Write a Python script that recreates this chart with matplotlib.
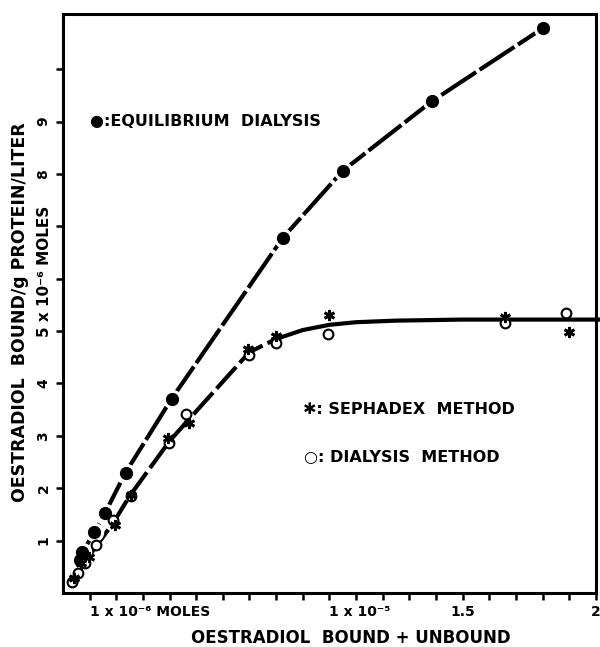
import numpy as np
import matplotlib.pyplot as plt

plt.rcParams['font.family'] = ['DejaVu Sans']
plt.rcParams['font.weight'] = 'bold'

# x in units of 1e-5 moles, y in units of 1e-6 moles
eq_x = [0.062, 0.073, 0.118, 0.157, 0.235, 0.408, 0.825, 1.05, 1.385, 1.80]
eq_y = [0.63, 0.78, 1.16, 1.52, 2.30, 3.71, 6.78, 8.06, 9.39, 10.78]

seph_x = [0.043, 0.066, 0.097, 0.194, 0.254, 0.393, 0.472, 0.695, 0.80, 1.0, 1.66, 1.90]
seph_y = [0.29, 0.57, 0.69, 1.30, 1.87, 2.95, 3.24, 4.65, 4.91, 5.30, 5.26, 4.99]

dial_x = [0.032, 0.058, 0.081, 0.125, 0.187, 0.254, 0.397, 0.463, 0.70, 0.80, 0.995, 1.66, 1.89]
dial_y = [0.21, 0.38, 0.57, 0.91, 1.39, 1.85, 2.86, 3.41, 4.55, 4.78, 4.95, 5.16, 5.35]

# hand-drawn fit through sephadex + dialysis points
fit_x = [0.03, 0.10, 0.19, 0.25, 0.40, 0.47, 0.70, 0.80]
fit_y = [0.22, 0.72, 1.35, 1.85, 2.90, 3.30, 4.60, 4.85]
plat_x = [0.80, 0.90, 1.00, 1.10, 1.25, 1.50, 1.75, 2.02]
plat_y = [4.85, 5.02, 5.12, 5.17, 5.20, 5.22, 5.22, 5.22]

xticks = np.round(np.arange(0.1, 2.01, 0.1), 1)
xlabels = ['1 x 10\u207b\u2076 MOLES' if t == 0.1 else '1 x 10\u207b\u2075' if t == 1.0
           else '1.5' if t == 1.5 else '2' if t == 2.0 else '' for t in xticks]
yticks = list(range(1, 11))
ylabels = ['1', '2', '3', '4', '', '', '', '8', '9', '']

fig = plt.figure(figsize=(6, 6.47), dpi=100)
ax = fig.add_axes([0.105, 0.0835, 0.888, 0.8945])

# equilibrium dialysis
ax.plot(eq_x, eq_y, color='black', lw=3, dashes=(10, 1), solid_capstyle='butt', zorder=2)
ax.plot(eq_x, eq_y, 'o', color='white', ms=13, zorder=3)
ax.plot(eq_x, eq_y, 'o', color='black', ms=8.5, zorder=4)

# sephadex / dialysis method
ax.plot(fit_x, fit_y, color='black', lw=3, dashes=(7, 1.3), zorder=2)
ax.plot(plat_x, plat_y, color='black', lw=3, zorder=2, clip_on=False)
ax.plot(dial_x, dial_y, 'o', mfc='white', mec='black', mew=1.5, ms=7, zorder=4)
ax.plot(seph_x, seph_y, marker=(6, 2, 0), ls='none', color='black', ms=8, mew=2, zorder=5)

ax.set_xlim(0, 2.0)
ax.set_ylim(0, 11.05)
ax.set_xticks(xticks)
ax.set_xticklabels(xlabels, fontsize=10, fontweight='bold')
for lab, t in zip(ax.get_xticklabels(), xticks):
    if t in (0.1, 1.0):
        lab.set_ha('left')
ax.set_yticks(yticks)
ax.set_yticklabels(ylabels, fontsize=10, fontweight='bold', rotation=90, va='center')
ax.tick_params(direction='out', length=5, width=1.8, pad=4)
for s in ax.spines.values():
    s.set_linewidth(2.2)

ax.text(-0.034, 4.88, '5 x 10\u207b\u2076 MOLES', transform=ax.get_yaxis_transform(),
        rotation=90, ha='center', va='bottom', fontsize=11, fontweight='bold')
ax.text(-0.081, 0.485, 'OESTRADIOL  BOUND/g PROTEIN/LITER', transform=ax.transAxes,
        rotation=90, ha='center', va='center', fontsize=12.5, fontweight='bold')
ax.text(0.54, -0.078, 'OESTRADIOL  BOUND + UNBOUND', transform=ax.transAxes,
        ha='center', va='center', fontsize=12, fontweight='bold')

ax.text(0.10, 9.0, '\u25cf:EQUILIBRIUM  DIALYSIS', ha='left', va='center',
        fontsize=11.5, fontweight='bold')
ax.text(0.90, 3.51, '\u2731: SEPHADEX  METHOD', ha='left', va='center',
        fontsize=11.5, fontweight='bold')
ax.text(0.905, 2.58, '\u25cb: DIALYSIS  METHOD', ha='left', va='center',
        fontsize=11.5, fontweight='bold')

fig.savefig('out.png', dpi=100)
